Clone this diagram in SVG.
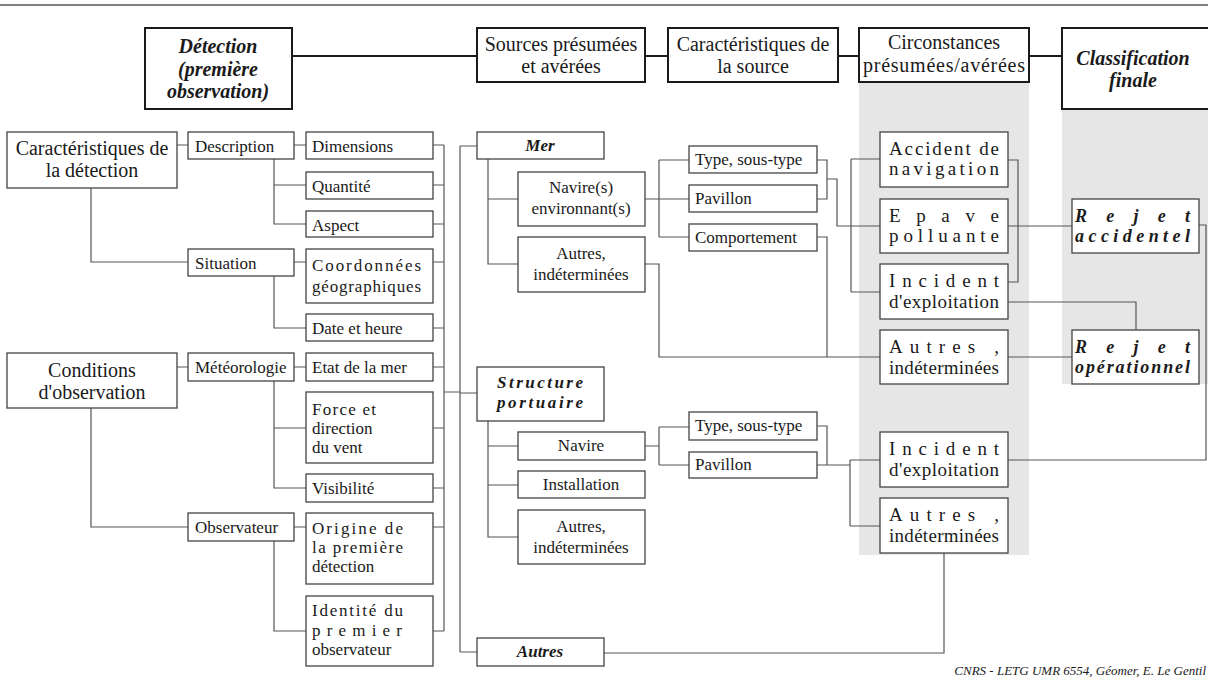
<svg xmlns="http://www.w3.org/2000/svg" width="1208" height="686" viewBox="0 0 1208 686" font-family="Liberation Serif, DejaVu Serif, serif">
<style>
text{font-family:'Liberation Serif','DejaVu Serif',serif;fill:#1a1a1a;font-size:17px}
.b{fill:#fff;stroke:#444;stroke-width:1.3}
.h{fill:#fff;stroke:#1a1a1a;stroke-width:2}
.c{fill:none;stroke:#555;stroke-width:1.2}
.hl{fill:none;stroke:#1a1a1a;stroke-width:2}
.bi{font-weight:bold;font-style:italic}
.m{text-anchor:middle}
.lg{font-size:20px}
.ci{font-size:19px}
.rj{font-size:18px}
</style>
<rect x="0" y="0" width="1208" height="686" fill="#fff"/>
<line x1="0" y1="5" x2="1208" y2="5" stroke="#555" stroke-width="1.5"/>
<rect x="859" y="82" width="170" height="473" fill="#e6e6e6"/>
<rect x="1062" y="109" width="146" height="275" fill="#e6e6e6"/>

<g id="connectors">
<path class="hl" d="M292,56 H1062"/>
<path class="c" d="M177,145 H188 M294,145 H306 M274,159 V224 H306 M274,185 H306 M91,188 V262 H188 M294,262 H306 M274,276 V328 H306 M177,367 H188 M294,367 H306 M274,381 V488 H306 M274,428 H306 M91,408 V527 H188 M294,527 H306 M274,541 V631 H306"/>
<path class="c" d="M444,145 V631 M433,145 H444 M433,185 H444 M433,224 H444 M433,262 H444 M433,328 H444 M433,367 H444 M433,428 H444 M433,488 H444 M433,527 H444 M433,631 H444 M444,392 H460"/>
<path class="c" d="M460,146 V652 M460,146 H477 M460,393 H477 M460,652 H477"/>
<path class="c" d="M488,159 V264 H518 M488,199 H518 M645,199 H689 M659,160 V237 M659,160 H689 M659,237 H689 M645,264 H659 V357 H880 M817,160 H827 V199 H817 M827,179 H837 V226 H880 M817,237 H827 V357 M851,159 V292 M851,159 H880 M851,292 H880"/>
<path class="c" d="M1008,160 H1018 V282 H1008 M1008,226 H1072 M1008,302 H1136 V330 M1008,357 H1072 M1199,225 H1206 V460 H1008"/>
<path class="c" d="M488,421 V537 H518 M488,446 H518 M488,485 H518 M645,446 H659 M659,427 V465 M659,427 H689 M659,465 H689 M817,426 H827 V465 H817 M827,465 H850 M850,460 V526 M850,460 H880 M850,526 H880 M944,553 V653 H604"/>
</g>

<g id="h-detection"><rect class="h" x="145" y="28" width="147" height="81"/>
<text class="bi m lg" x="218" y="53">Détection</text><text class="bi m lg" x="218" y="76">(première</text><text class="bi m lg" x="218" y="98">observation)</text></g>
<g id="h-sources"><rect class="h" x="477" y="28" width="168" height="54"/>
<text class="m lg" x="561" y="51">Sources présumées</text><text class="m lg" x="561" y="73">et avérées</text></g>
<g id="h-caract"><rect class="h" x="668" y="28" width="170" height="54"/>
<text class="m lg" x="753" y="51">Caractéristiques de</text><text class="m lg" x="753" y="73">la source</text></g>
<g id="h-circ"><rect class="h" x="859" y="28" width="170" height="54"/>
<text class="m lg" x="944" y="49">Circonstances</text><text class="m lg" x="944" y="72" textLength="162" lengthAdjust="spacing">présumées/avérées</text></g>
<g id="h-classif"><rect class="h" x="1062" y="28" width="150" height="81"/>
<text class="bi m lg" x="1133" y="65">Classification</text><text class="bi m lg" x="1133" y="87">finale</text></g>

<g id="n-caract-det"><rect class="b" x="7" y="132" width="170" height="56"/>
<text class="m lg" x="92" y="155">Caractéristiques de</text><text class="m lg" x="92" y="177">la détection</text></g>
<g id="n-description"><rect class="b" x="188" y="132" width="106" height="27"/><text x="195" y="152">Description</text></g>
<g id="n-dimensions"><rect class="b" x="306" y="132" width="127" height="27"/><text x="312" y="152">Dimensions</text></g>
<g id="n-quantite"><rect class="b" x="306" y="172" width="127" height="27"/><text x="312" y="192">Quantité</text></g>
<g id="n-aspect"><rect class="b" x="306" y="211" width="127" height="26"/><text x="312" y="231">Aspect</text></g>
<g id="n-situation"><rect class="b" x="188" y="249" width="106" height="27"/><text x="195" y="269">Situation</text></g>
<g id="n-coord"><rect class="b" x="306" y="249" width="127" height="54"/>
<text x="312" y="271" textLength="109" lengthAdjust="spacing">Coordonnées</text><text x="312" y="292" textLength="109" lengthAdjust="spacing">géographiques</text></g>
<g id="n-date"><rect class="b" x="306" y="314" width="127" height="27"/><text x="312" y="334">Date et heure</text></g>
<g id="n-conditions"><rect class="b" x="7" y="353" width="170" height="55"/>
<text class="m lg" x="92" y="377">Conditions</text><text class="m lg" x="92" y="399">d'observation</text></g>
<g id="n-meteo"><rect class="b" x="188" y="353" width="106" height="28"/><text x="195" y="373">Météorologie</text></g>
<g id="n-etat"><rect class="b" x="306" y="353" width="127" height="28"/><text x="312" y="373">Etat de la mer</text></g>
<g id="n-force"><rect class="b" x="306" y="392" width="127" height="71"/>
<text x="312" y="415" textLength="64" lengthAdjust="spacing">Force et</text><text x="312" y="434">direction</text><text x="312" y="453">du vent</text></g>
<g id="n-visibilite"><rect class="b" x="306" y="474" width="127" height="28"/><text x="312" y="494">Visibilité</text></g>
<g id="n-observateur"><rect class="b" x="188" y="513" width="106" height="28"/><text x="195" y="533">Observateur</text></g>
<g id="n-origine"><rect class="b" x="306" y="513" width="127" height="71"/>
<text x="312" y="534" textLength="91" lengthAdjust="spacing">Origine de</text><text x="312" y="553" textLength="91" lengthAdjust="spacing">la première</text><text x="312" y="572">détection</text></g>
<g id="n-identite"><rect class="b" x="306" y="596" width="127" height="70"/>
<text x="312" y="616" textLength="91" lengthAdjust="spacing">Identité du</text><text x="312" y="636" textLength="90" lengthAdjust="spacing">premier</text><text x="312" y="655">observateur</text></g>

<g id="n-mer"><rect class="b" x="477" y="132" width="127" height="27"/><text class="bi m" x="540" y="151">Mer</text></g>
<g id="n-navires"><rect class="b" x="518" y="172" width="127" height="54"/>
<text class="m" x="581" y="193">Navire(s)</text><text class="m" x="581" y="214">environnant(s)</text></g>
<g id="n-autres-mer"><rect class="b" x="518" y="237" width="127" height="55"/>
<text class="m" x="581" y="259">Autres,</text><text class="m" x="581" y="280">indéterminées</text></g>
<g id="n-type1"><rect class="b" x="689" y="146" width="128" height="27"/><text x="695" y="165">Type, sous-type</text></g>
<g id="n-pavillon1"><rect class="b" x="689" y="185" width="128" height="27"/><text x="695" y="204">Pavillon</text></g>
<g id="n-comport"><rect class="b" x="689" y="224" width="128" height="27"/><text x="695" y="243">Comportement</text></g>

<g id="n-structure"><rect class="b" x="477" y="367" width="127" height="54"/>
<text class="bi m" x="540" y="388" textLength="86" lengthAdjust="spacing">Structure</text><text class="bi m" x="540" y="408" textLength="86" lengthAdjust="spacing">portuaire</text></g>
<g id="n-navire"><rect class="b" x="518" y="432" width="127" height="28"/><text class="m" x="581" y="451">Navire</text></g>
<g id="n-installation"><rect class="b" x="518" y="471" width="127" height="27"/><text class="m" x="581" y="490">Installation</text></g>
<g id="n-autres-port"><rect class="b" x="518" y="510" width="127" height="54"/>
<text class="m" x="581" y="532">Autres,</text><text class="m" x="581" y="553">indéterminées</text></g>
<g id="n-type2"><rect class="b" x="689" y="412" width="128" height="28"/><text x="695" y="431">Type, sous-type</text></g>
<g id="n-pavillon2"><rect class="b" x="689" y="452" width="128" height="26"/><text x="695" y="470">Pavillon</text></g>
<g id="n-autres"><rect class="b" x="477" y="638" width="127" height="28"/><text class="bi m" x="540" y="657">Autres</text></g>

<g id="n-accident"><rect class="b" x="880" y="132" width="128" height="55"/>
<text class="ci" x="889" y="155" textLength="110" lengthAdjust="spacing">Accident de</text><text class="ci" x="889" y="175" textLength="110" lengthAdjust="spacing">navigation</text></g>
<g id="n-epave"><rect class="b" x="880" y="199" width="128" height="54"/>
<text class="ci" x="889" y="222" textLength="110" lengthAdjust="spacing">Epave</text><text class="ci" x="889" y="242" textLength="110" lengthAdjust="spacing">polluante</text></g>
<g id="n-incident1"><rect class="b" x="880" y="264" width="128" height="55"/>
<text class="ci" x="889" y="287" textLength="110" lengthAdjust="spacing">Incident</text><text class="ci" x="889" y="308" textLength="110" lengthAdjust="spacing">d'exploitation</text></g>
<g id="n-autres-circ1"><rect class="b" x="880" y="330" width="128" height="54"/>
<text class="ci" x="889" y="353" textLength="110" lengthAdjust="spacing">Autres ,</text><text class="ci" x="889" y="374" textLength="110" lengthAdjust="spacing">indéterminées</text></g>
<g id="n-incident2"><rect class="b" x="880" y="432" width="128" height="55"/>
<text class="ci" x="889" y="455" textLength="110" lengthAdjust="spacing">Incident</text><text class="ci" x="889" y="476" textLength="110" lengthAdjust="spacing">d'exploitation</text></g>
<g id="n-autres-circ2"><rect class="b" x="880" y="498" width="128" height="55"/>
<text class="ci" x="889" y="521" textLength="110" lengthAdjust="spacing">Autres ,</text><text class="ci" x="889" y="542" textLength="110" lengthAdjust="spacing">indéterminées</text></g>

<g id="n-rejet-acc"><rect class="b" x="1072" y="199" width="127" height="54"/>
<text class="bi rj" x="1075" y="222" textLength="115" lengthAdjust="spacing">Rejet</text><text class="bi rj" x="1075" y="242" textLength="115" lengthAdjust="spacing">accidentel</text></g>
<g id="n-rejet-op"><rect class="b" x="1072" y="330" width="127" height="54"/>
<text class="bi rj" x="1075" y="353" textLength="115" lengthAdjust="spacing">Rejet</text><text class="bi rj" x="1075" y="373" textLength="115" lengthAdjust="spacing">opérationnel</text></g>

<text x="1206" y="675" style="font-size:13px;font-style:italic;text-anchor:end">CNRS - LETG UMR 6554, Géomer, E. Le Gentil</text>
</svg>
